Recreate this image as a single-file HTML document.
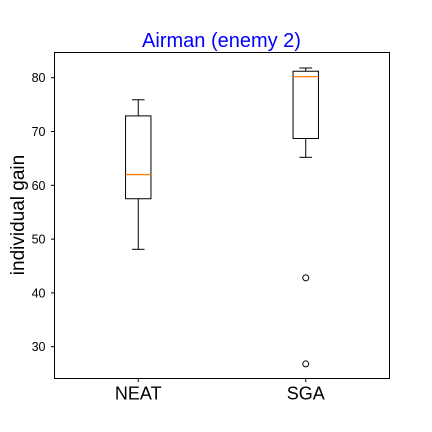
<!DOCTYPE html>
<html><head><meta charset="utf-8"><style>
body{margin:0;background:#fff}
svg{display:block;font-family:"Liberation Sans","DejaVu Sans",sans-serif}
</style></head><body>
<svg id="chart" width="432" height="432">
<text x="221.5" y="47" text-anchor="middle" font-size="20" fill="#0000ff">Airman (enemy 2)</text>
<text transform="translate(24,215) rotate(-90)" text-anchor="middle" font-size="19" fill="#000">individual gain</text>
<g id="marks"></g>
<rect x="54.5" y="52.5" width="335" height="326" fill="none" stroke="#000" stroke-width="1"/>
</svg>
<script>
const categories=["NEAT","SGA"];
const whiskerLow=[48.1,65.2];
const q1=[57.5,68.7];
const medians=[62.0,80.2];
const q3=[72.9,81.2];
const whiskerHigh=[75.9,81.8];
const fliers=[[],[42.8,26.8]];
const yTicks=[30,40,50,60,70,80];

const L=54.5,R=389.5,T=52.5,B=378.5;
function y(v){return 77.7+(80-v)*5.38;}
function x(i){return L+(R-L)*(i+0.5)/2;}
const g=document.getElementById('marks');
const NS='http://www.w3.org/2000/svg';
function mk(t,a){const e=document.createElementNS(NS,t);for(const k in a)e.setAttribute(k,a[k]);g.appendChild(e);return e;}
yTicks.forEach(v=>{
 const tk=mk('line',{x1:L-3.5,x2:L,y1:y(v),y2:y(v),stroke:'#000'});
 
 
 const tl=mk('text',{x:L-9,y:y(v)+4.5,'text-anchor':'end','font-size':'12.5'});
 tl.textContent=v;
 
 
});
categories.forEach((c,i)=>{
 const cx=x(i),bw=25.4,cw=12.7;
 const tk=mk('line',{x1:cx,x2:cx,y1:B,y2:B+3.5,stroke:'#000'});
 
 
 const tl=mk('text',{x:cx,y:B+21,'text-anchor':'middle','font-size':'18'});
 tl.textContent=c;
 
 
 const w1=mk('line',{x1:cx,x2:cx,y1:y(whiskerHigh[i]),y2:y(q3[i]),stroke:'#000'});
 
 
 const w2=mk('line',{x1:cx,x2:cx,y1:y(q1[i]),y2:y(whiskerLow[i]),stroke:'#000'});
 
 
 const c1=mk('line',{x1:cx-cw/2,x2:cx+cw/2,y1:y(whiskerHigh[i]),y2:y(whiskerHigh[i]),stroke:'#000'});
 
 
 const c2=mk('line',{x1:cx-cw/2,x2:cx+cw/2,y1:y(whiskerLow[i]),y2:y(whiskerLow[i]),stroke:'#000'});
 
 
 const bx=mk('rect',{x:cx-bw/2,y:y(q3[i]),width:bw,height:y(q1[i])-y(q3[i]),fill:'none',stroke:'#000'});
 
 
 const md=mk('line',{x1:cx-bw/2,x2:cx+bw/2,y1:y(medians[i]),y2:y(medians[i]),stroke:'#ff7f0e','stroke-width':1.3});
 
 
 fliers[i].forEach((f,j)=>{
  const p=mk('circle',{cx:cx,cy:y(f),r:3,fill:'none',stroke:'#000'});
  
  
 });
});
</script>
</body></html>
